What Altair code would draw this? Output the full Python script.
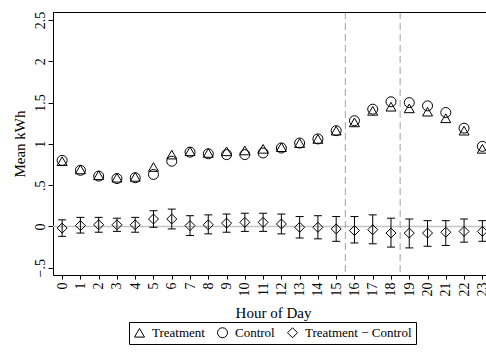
import altair as alt
import pandas as pd

hours = list(range(24))
treatment = [0.79, 0.69, 0.62, 0.59, 0.60, 0.72, 0.87, 0.91, 0.89, 0.91, 0.92, 0.94,
             0.96, 1.01, 1.06, 1.16, 1.26, 1.40, 1.45, 1.43, 1.39, 1.31, 1.16, 0.94]
control = [0.80, 0.68, 0.61, 0.58, 0.59, 0.63, 0.79, 0.90, 0.88, 0.87, 0.87, 0.89,
           0.95, 1.01, 1.06, 1.16, 1.28, 1.42, 1.51, 1.50, 1.46, 1.38, 1.19, 0.97]
diff = [-0.02, 0.01, 0.02, 0.02, 0.02, 0.09, 0.09, 0.01, 0.02, 0.04, 0.05, 0.05,
        0.03, -0.01, -0.01, -0.03, -0.05, -0.04, -0.08, -0.08, -0.08, -0.07, -0.06, -0.06]
diff_lo = [-0.12, -0.08, -0.07, -0.06, -0.07, -0.01, -0.03, -0.11, -0.09, -0.07, -0.06, -0.06,
           -0.09, -0.14, -0.15, -0.18, -0.20, -0.21, -0.25, -0.26, -0.24, -0.23, -0.19, -0.18]
diff_hi = [0.08, 0.11, 0.11, 0.10, 0.11, 0.19, 0.21, 0.13, 0.14, 0.15, 0.16, 0.16,
           0.15, 0.12, 0.13, 0.12, 0.12, 0.14, 0.10, 0.09, 0.07, 0.07, 0.09, 0.07]

series_names = ["Treatment", "Control", "Treatment \u2212 Control"]
series_shapes = ["triangle-up", "circle", "diamond"]
y_ticks = [-0.5, 0, 0.5, 1, 1.5, 2, 2.5]
y_tick_labels = ["\u2212.5", "0", ".5", "1", "1.5", "2", "2.5"]
peak_bounds = [15.5, 18.5]
x_domain = [-0.5, 23.2]
y_domain = [-0.588, 2.597]

rows = []
for h, t, c, d in zip(hours, treatment, control, diff):
    rows.append({"hour": h, "value": t, "series": series_names[0]})
    rows.append({"hour": h, "value": c, "series": series_names[1]})
    rows.append({"hour": h, "value": d, "series": series_names[2]})
pts = pd.DataFrame(rows)
ci = pd.DataFrame({"hour": hours, "lo": diff_lo, "hi": diff_hi})
caps = pd.DataFrame({"hour": hours + hours, "v": diff_lo + diff_hi})
vlines = pd.DataFrame({"x": peak_bounds})
frame = pd.DataFrame({"y": [y_domain[1]]})
zero = pd.DataFrame({"y": [0]})

label_expr = ""
for v, lab in zip(y_ticks, y_tick_labels):
    label_expr += f"abs(datum.value - ({v})) < 0.01 ? '{lab}' : "
label_expr += "''"

FONT = "Liberation Serif"
xs = alt.Scale(domain=x_domain, nice=False, zero=False)
ys = alt.Scale(domain=y_domain, nice=False, zero=False)

x_axis = alt.Axis(values=hours, labelAngle=-90, labelAlign="right", labelBaseline="middle",
                  tickSize=4, labelPadding=3, grid=False, domainColor="black",
                  tickColor="black", labelColor="black", labelFontSize=14,
                  title="Hour of Day", titleX=220, titleY=37, titleAlign="center",
                  titleBaseline="middle", titleFontSize=15, titleFontWeight="normal",
                  titleColor="black", labelFlush=False, labelOverlap=False)
y_axis = alt.Axis(values=y_ticks, labelExpr=label_expr, labelAngle=-90, labelAlign="center",
                  labelBaseline="alphabetic", tickSize=5, labelPadding=4, grid=False,
                  domainColor="black", tickColor="black", labelColor="black",
                  labelFontSize=14, title="Mean kWh", titleAngle=-90, titleX=-34,
                  titleY=131.5, titleAlign="center", titleBaseline="middle",
                  titleFontSize=15, titleFontWeight="normal", titleColor="black",
                  labelFlush=False, labelOverlap=False)


def X(field):
    return alt.X(field, scale=xs, axis=x_axis)


def Y(field):
    return alt.Y(field, scale=ys, axis=y_axis)


zero_line = alt.Chart(zero).mark_rule(color="#c4c4c4", strokeWidth=1.5).encode(
    y=Y("y:Q")
)
top_line = alt.Chart(frame).mark_rule(color="black", strokeWidth=1, yOffset=0.5).encode(
    y=Y("y:Q")
)
dashed = alt.Chart(vlines).mark_rule(color="#a0a0a0", strokeWidth=1, strokeDash=[7, 4]).encode(
    x=X("x:Q")
)
err_lines = alt.Chart(ci).mark_rule(color="black", strokeWidth=1).encode(
    x=X("hour:Q"),
    y=Y("lo:Q"),
    y2="hi:Q",
)
err_caps = alt.Chart(caps).mark_point(shape="stroke", filled=False, color="black",
                                      strokeWidth=1, size=64, opacity=1).encode(
    x=X("hour:Q"),
    y=Y("v:Q"),
)
points = alt.Chart(pts).mark_point(filled=False, color="black", strokeWidth=1,
                                   size=100, opacity=1).encode(
    x=X("hour:Q"),
    y=Y("value:Q"),
    shape=alt.Shape("series:N",
                    scale=alt.Scale(domain=series_names, range=series_shapes),
                    legend=alt.Legend(orient="none", legendX=76, legendY=310,
                                      direction="horizontal", title=None,
                                      strokeColor="black", padding=4,
                                      labelFontSize=13, labelColor="black",
                                      symbolSize=100, symbolStrokeWidth=1,
                                      symbolStrokeColor="black",
                                      symbolFillColor="transparent",
                                      symbolOpacity=1,
                                      columnPadding=10, labelOffset=6)),
)

chart = alt.layer(zero_line, dashed, top_line, err_lines, err_caps, points).properties(
    width=433, height=263,
    autosize=alt.AutoSizeParams(type="none"),
    padding={"left": 53, "top": 12, "right": 0, "bottom": 77},
    background="white",
).configure(font=FONT).configure_view(stroke=None)

chart.save("out.html", embed_options={"renderer": "svg", "actions": False})
